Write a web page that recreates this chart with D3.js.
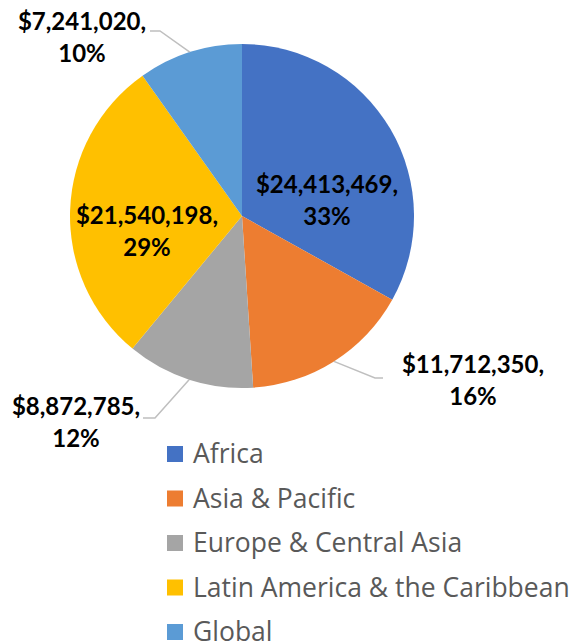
<!DOCTYPE html>
<html>
<head>
<meta charset="utf-8">
<script src="https://cdn.jsdelivr.net/npm/d3@7"></script>
<style>
  body { margin: 0; background: #fff; }
  svg { display: block; }
</style>
</head>
<body>
<div id="chart"></div>
<script>
// chart data
const regions = ["Africa", "Asia & Pacific", "Europe & Central Asia", "Latin America & the Caribbean", "Global"];
const amounts = [24413469, 11712350, 8872785, 21540198, 7241020];
const colors = ["#4472C4", "#ED7D31", "#A5A5A5", "#FFC000", "#5B9BD5"];

// dimensions
const width = 578;
const height = 644;
const cx = 242, cy = 216, radius = 172;

// label placement (relative to pie centre), Excel puts these by hand
// text: centre of the two-line label; tail: where the leader line meets the text
const labelLayout = [
  {text: [85, -15]},
  {text: [231, 165], tail: [141, 162], elbow: -8},
  {text: [-166, 207], tail: [-99, 202], elbow: 12},
  {text: [-95, 16]},
  {text: [-160, -178], tail: [-92, -185], elbow: 10}
];

const svg = d3.select("#chart")
  .append("svg")
  .attr("width", width)
  .attr("height", height);

const data = regions.map((r, i) => ({region: r, amount: amounts[i], color: colors[i], layout: labelLayout[i]}));
const total = d3.sum(amounts);

const pie = d3.pie().sort(null).value(d => d.amount);
const arc = d3.arc().innerRadius(0).outerRadius(radius);
const edgeArc = d3.arc().innerRadius(radius).outerRadius(radius);

const g = svg.append("g").attr("transform", `translate(${cx},${cy})`);

const arcs = pie(data);

// slices
g.selectAll("path.slice")
  .data(arcs)
  .enter()
  .append("path")
    .attr("class", "slice")
    .attr("d", arc)
    .attr("fill", d => d.data.color);

// leader lines for outside labels
g.selectAll("polyline")
  .data(arcs.filter(d => d.data.layout.tail))
  .enter()
  .append("polyline")
    .attr("points", d => {
      const p0 = edgeArc.centroid(d);
      const t = d.data.layout.tail;
      return [p0, [t[0] + d.data.layout.elbow, t[1]], t].map(p => p.join(",")).join(" ");
    })
    .attr("fill", "none")
    .attr("stroke", "#BFBFBF")
    .attr("stroke-width", 1.5);

// data labels
const fmt = d3.format("$,");
const labels = g.selectAll("text.lbl")
  .data(arcs)
  .enter()
  .append("text")
    .attr("class", "lbl")
    .attr("text-anchor", "middle")
    .attr("font-family", "Lato, 'Open Sans', sans-serif")
    .attr("font-weight", "bold")
    .attr("font-size", "24px")
    .attr("fill", "#000");

labels.append("tspan")
  .attr("x", d => d.data.layout.text[0])
  .attr("y", d => d.data.layout.text[1] - 16)
  .attr("dy", "0.35em")
  .text(d => fmt(d.data.amount) + ",");

labels.append("tspan")
  .attr("x", d => d.data.layout.text[0])
  .attr("y", d => d.data.layout.text[1] + 16)
  .attr("dy", "0.35em")
  .text(d => Math.round(d.data.amount / total * 100) + "%");

// legend
const legendY = d3.scalePoint()
  .domain(regions)
  .range([454, 632]);

const legend = svg.selectAll("g.legend")
  .data(data)
  .enter()
  .append("g")
    .attr("class", "legend")
    .attr("transform", d => `translate(167,${legendY(d.region)})`);

legend.append("rect")
  .attr("x", 0)
  .attr("y", -8)
  .attr("width", 16)
  .attr("height", 16)
  .attr("fill", d => d.color);

legend.append("text")
  .attr("x", 26)
  .attr("dy", "0.35em")
  .attr("font-family", "'Open Sans', Lato, sans-serif")
  .attr("font-size", "26.5px")
  .attr("fill", "#595959")
  .text(d => d.region);
</script>
</body>
</html>
